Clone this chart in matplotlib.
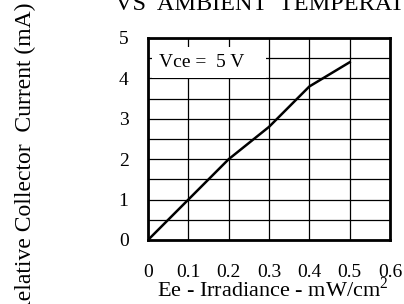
import matplotlib
matplotlib.use("Agg")
import matplotlib.pyplot as plt
import numpy as np

# curve
irradiance = [0.0, 0.1, 0.2, 0.3, 0.4, 0.5]
current = [0.0, 1.0, 2.0, 2.8, 3.8, 4.4]

x_ticks = [0, 0.1, 0.2, 0.3, 0.4, 0.5, 0.6]
x_tick_labels = ["0", "0.1", "0.2", "0.3", "0.4", "0.5", "0.6"]
y_ticks = [0, 1, 2, 3, 4, 5]

plt.rcParams["font.family"] = ["Liberation Serif", "DejaVu Serif"]
plt.rcParams["mathtext.fontset"] = "custom"
plt.rcParams["mathtext.rm"] = "Liberation Serif"

fig = plt.figure(figsize=(4.04, 3.04), dpi=100)
ax = fig.add_axes([148 / 404, 1 - 240 / 304, 242 / 404, 202 / 304])

ax.plot(irradiance, current, color="black", lw=1.8, zorder=3)

ax.set_xlim(0, 0.6)
ax.set_ylim(0, 5)
ax.set_xticks(x_ticks)
ax.set_xticklabels(x_tick_labels)
ax.set_yticks(y_ticks)
ax.set_yticks(np.arange(0.5, 5, 1.0), minor=True)
ax.tick_params(which="both", length=0, labelsize=14)
ax.tick_params(axis="x", pad=17)
ax.tick_params(axis="y", pad=14)
ax.grid(True, which="both", color="black", lw=0.9)
for s in ax.spines.values():
    s.set_linewidth(2)

ax.text(0.028, 4.4, "Vce =  5 V   ", fontsize=14, va="center", ha="left",
        bbox=dict(facecolor="white", edgecolor="none", pad=5), zorder=4)

fig.text(273 / 404, 1 - 297 / 304, "Ee - Irradiance - mW/cm$^2$", fontsize=16,
         ha="center", va="baseline")
fig.text(115 / 404, 1 - 10 / 304, "VS  AMBIENT  TEMPERATURE", fontsize=17.5,
         ha="left", va="baseline")
fig.text(25 / 404, 1 - 3 / 304, "Relative Collector  Current (mA)", fontsize=17,
         rotation=90, ha="center", va="top")

fig.savefig("out.png", dpi=100)
